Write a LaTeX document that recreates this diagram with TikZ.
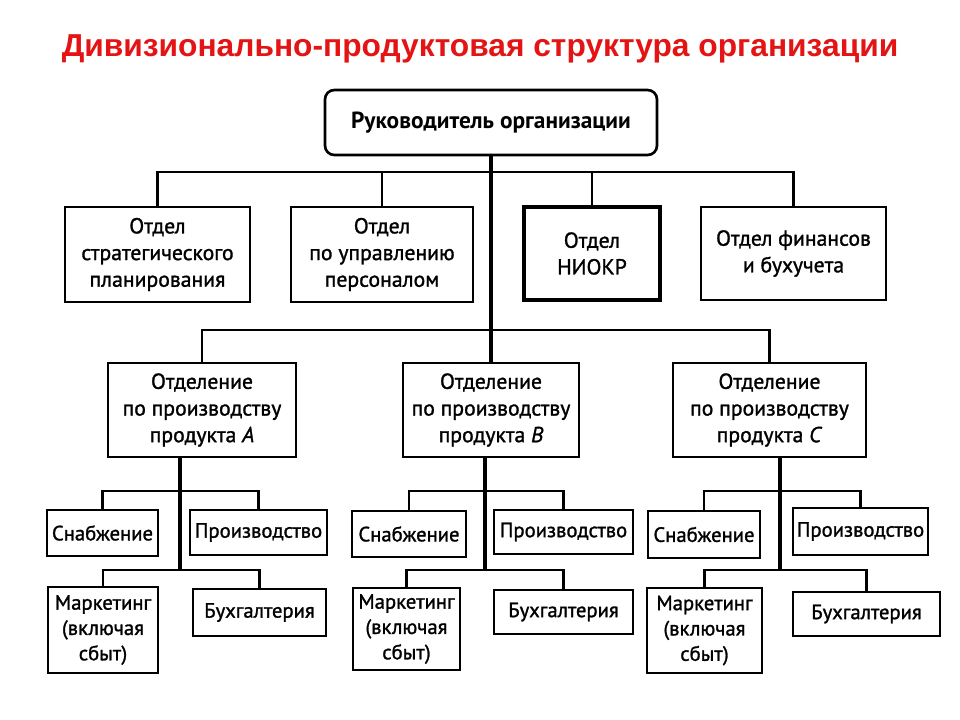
\documentclass[tikz,border=0pt]{standalone}
\usepackage{fontspec}
\setmainfont{PT Sans}
\newfontfamily\boxfont[FakeBold=1.3]{PT Sans}
\newfontfamily\titlefont{Liberation Sans}
\definecolor{titlered}{RGB}{228,20,20}
\begin{document}
\begin{tikzpicture}[x=0.75pt,y=-0.75pt,
  box/.style={draw, line width=2pt, inner sep=0pt, align=center, font=\boxfont\fontsize{16.3}{20}\selectfont},
  leaf/.style={box, font=\boxfont\fontsize{15.5}{19}\selectfont},
  topbox/.style={box, rounded corners=7pt, font=\fontsize{17.5}{20}\selectfont\bfseries},
  conn/.style={line width=1.6pt},
  trunk/.style={line width=2.6pt}]
\useasboundingbox (0,0) rectangle (960,720);
\node[font=\titlefont\fontsize{23.8}{28}\selectfont\bfseries, text=titlered] (title) at (480,49) {Дивизионально-продуктовая структура организации};
% top
\node[topbox, minimum width=249pt, minimum height=48.75pt] (top) at (491,122.5) {Руководитель организации};
% departments
\node[box, minimum width=138.75pt, minimum height=71.25pt] (b1) at (157.5,254.5) {Отдел\\стратегического\\планирования};
\node[box, minimum width=136.5pt, minimum height=71.25pt] (b2) at (382,254.5) {Отдел\\по управлению\\персоналом};
\node[box, line width=2.5pt, minimum width=102pt, minimum height=69.75pt] (b3) at (592,253.5) {Отдел\\НИОКР};
\node[box, minimum width=138.75pt, minimum height=69.75pt] (b4) at (793.5,253.5) {Отдел финансов\\и бухучета};
% divisions
\node[box, minimum width=141pt, minimum height=70.5pt] (dA) at (202,410) {Отделение\\по производству\\продукта \textit{A}};
\node[box, minimum width=132pt, minimum height=70.5pt] (dB) at (491,410) {Отделение\\по производству\\продукта \textit{B}};
\node[box, minimum width=144.75pt, minimum height=70.5pt] (dC) at (769.5,410) {Отделение\\по производству\\продукта \textit{C}};
% leaves A
\node[leaf, minimum width=83.25pt, minimum height=34.5pt] (sA) at (102.5,533) {Снабжение};
\node[leaf, minimum width=102.75pt, minimum height=33.75pt] (pA) at (258.5,532.5) {Производство};
\node[leaf, minimum width=82.5pt, minimum height=64.5pt] (mA) at (103,630) {Маркетинг\\(включая\\сбыт)};
\node[leaf, minimum width=99.75pt, minimum height=35.25pt] (uA) at (259.5,612.5) {Бухгалтерия};
% leaves B
\node[leaf, minimum width=85.5pt, minimum height=34.5pt] (sB) at (409,534) {Снабжение};
\node[leaf, minimum width=104.25pt, minimum height=33pt] (pB) at (563.5,532) {Производство};
\node[leaf, minimum width=80.25pt, minimum height=61.5pt] (mB) at (406.5,629) {Маркетинг\\(включая\\сбыт)};
\node[leaf, minimum width=104.25pt, minimum height=33pt] (uB) at (563.5,612) {Бухгалтерия};
% leaves C
\node[leaf, minimum width=84pt, minimum height=35.25pt] (sC) at (704,534.5) {Снабжение};
\node[leaf, minimum width=101.25pt, minimum height=35.25pt] (pC) at (860.5,531.5) {Производство};
\node[leaf, minimum width=86.25pt, minimum height=63.75pt] (mC) at (704.5,630.5) {Маркетинг\\(включая\\сбыт)};
\node[leaf, minimum width=110.25pt, minimum height=33pt] (uC) at (866.5,614) {Бухгалтерия};
% junctions
\coordinate (d) at (491,172);
\coordinate (v) at (491,330);
\coordinate (jA1) at (180,491); \coordinate (jA2) at (180,570);
\coordinate (jB1) at (485,491); \coordinate (jB2) at (485,570);
\coordinate (jC1) at (780,491); \coordinate (jC2) at (780,570);
% connectors
\draw[trunk] (top.south) -- (dB.north);
\draw[conn] (b1.north) |- (d) -| (b4.north);
\draw[conn] (b2.north) -- (b2.north |- d);
\draw[conn] (b3.north) -- (b3.north |- d);
\draw[conn] (dA.north) |- (v) -| (dC.north);
\foreach \s in {A,B,C}{
  \draw[trunk] (d\s.south -| j\s1) -- (j\s2);
  \draw[conn] (s\s.north) |- (j\s1) -| (p\s.north);
  \draw[conn] (m\s.north) |- (j\s2) -| (u\s.north);
}
\end{tikzpicture}
\end{document}
